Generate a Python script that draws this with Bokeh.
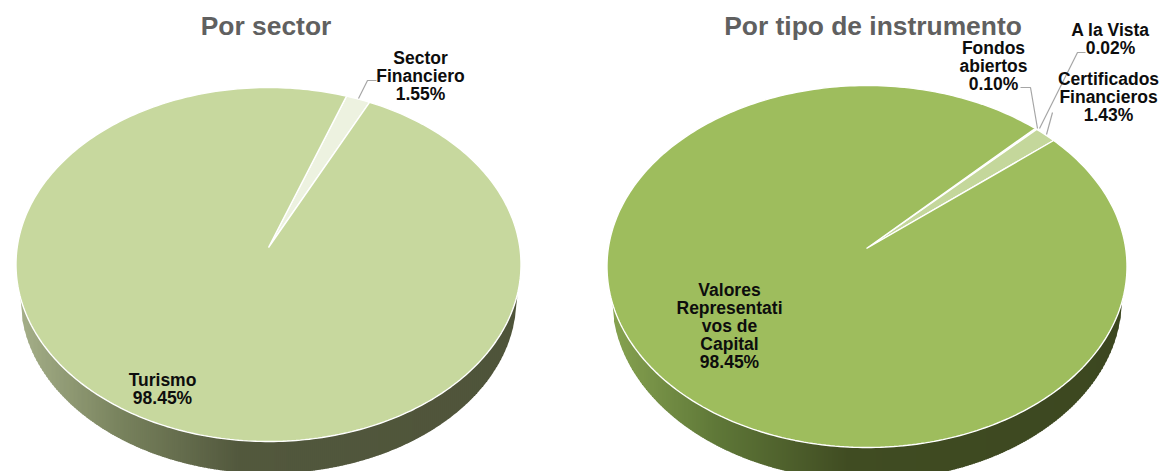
import math
from bokeh.plotting import figure
from bokeh.models import Range1d
from bokeh.core.properties import value
from bokeh.embed import file_html
from bokeh.resources import INLINE

# ---- data ----
sector_labels = ["Sector\nFinanciero\n1.55%", "Turismo\n98.45%"]
sector_values = [1.55, 98.45]
sector_colors = ["#EDF2E0", "#C7D89E"]

instr_labels = ["Fondos\nabiertos\n0.10%", "A la Vista\n0.02%", "Certificados\nFinancieros\n1.43%",
                "Valores\nRepresentati\nvos de\nCapital\n98.45%"]
instr_values = [0.10, 0.02, 1.43, 98.45]
instr_colors = ["#E4ECD0", "#E4ECD0", "#C4D79B", "#9EBD5D"]

titles = ["Por sector", "Por tipo de instrumento"]

# ---- page-pixel data space ----
W, H = 1161, 471
p = figure(width=W, height=H, output_backend="svg", toolbar_location=None,
           x_range=Range1d(0, W), y_range=Range1d(H, 0), min_border=0,
           outline_line_color=None, background_fill_color="white")
p.axis.visible = False
p.grid.visible = False
font = value("Liberation Sans")


def lerp_color(stops, f):
    for (a, ca), (b, cb) in zip(stops, stops[1:]):
        if f <= b:
            t = (f - a) / (b - a)
            return "#%02x%02x%02x" % tuple(round(x + (y - x) * t) for x, y in zip(ca, cb))
    return "#%02x%02x%02x" % stops[-1][1]


def pie(vals, colors, start, cx, cy, rx, ry, ax, ay, low_rx, low_cy, low_ry, stops):
    # side wall: columns between the upper and lower rim
    xs, ys, fills = [], [], []
    x0 = cx - low_rx
    step = 2.0
    n = int(2 * low_rx / step)

    def up(x):
        return cy + ry * math.sqrt(max(0, 1 - ((x - cx) / rx) ** 2))

    def lo(x):
        return low_cy + low_ry * math.sqrt(max(0, 1 - ((x - cx) / low_rx) ** 2))

    for i in range(n):
        xa = x0 + i * step
        xb = xa + step + 0.6
        xs.append([xa, xb, xb, xa])
        ys.append([up(xa), up(xb), lo(min(xb, cx + low_rx)), lo(xa)])
        fills.append(lerp_color(stops, i / n))
    p.patches(xs, ys, fill_color=fills, line_color=None)

    # top face: wedges from the values, angle measured on the ellipse
    total = sum(vals)
    ang = start
    for v, c in zip(vals, colors):
        sweep = 360.0 * v / total
        k = max(2, int(sweep))
        px = [ax]
        py = [ay]
        for j in range(k + 1):
            t = math.radians(ang + sweep * j / k)
            px.append(cx + rx * math.sin(t))
            py.append(cy - ry * math.cos(t))
        p.patch(px, py, fill_color=c, line_color="white", line_width=1.4)
        ang += sweep


left_stops = [(0.0, (0xA4, 0xAE, 0x88)), (0.2, (0x78, 0x82, 0x5D)), (0.44, (0x52, 0x58, 0x3D)), (1.0, (0x4F, 0x54, 0x3A))]
right_stops = [(0.0, (0x86, 0xA2, 0x50)), (0.2, (0x5F, 0x78, 0x38)), (0.46, (0x40, 0x4C, 0x22)), (1.0, (0x3C, 0x47, 0x20))]

pie(sector_values, sector_colors, 18.0, 268, 264, 252.5, 177, 268, 247, 248, 298, 175, left_stops)
pie(instr_values, instr_colors, 40.3, 866.5, 266, 260, 181, 866, 248, 255, 298, 182, right_stops)

# leader lines
p.multi_line([[358, 367, 376], [1020, 1030, 1037], [1085, 1077, 1039], [1052, 1046]],
             [[98, 80, 80], [87, 87, 128], [52, 52, 128], [112, 134]],
             line_color="#A6A6A6", line_width=1.2)


def label(txt, x, y, size="17.5px", color="#0D0D0D", lh=18):
    lines = txt.split("\n")
    p.text([x] * len(lines), [y + i * lh for i in range(len(lines))], text=lines,
           text_font=font, text_font_style="bold", text_font_size=size, text_color=color,
           text_align="center", text_baseline="middle")


label(titles[0], 265.5, 25, size="26.4px", color="#606060")
label(titles[1], 872.5, 25, size="26.4px", color="#606060")
label(sector_labels[0], 420, 57)
label(sector_labels[1], 162, 379)
label(instr_labels[0], 993, 47)
label(instr_labels[1], 1110, 29)
label(instr_labels[2], 1108, 78)
label(instr_labels[3], 729, 289)

open("out.html", "w").write(file_html(p, INLINE))
